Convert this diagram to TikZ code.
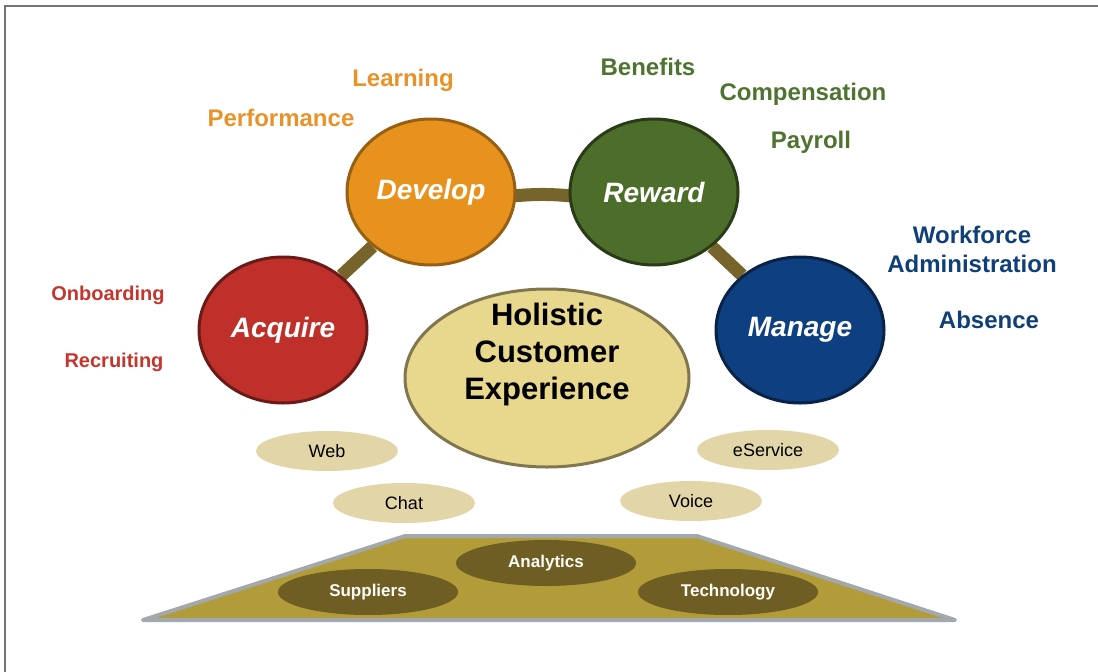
\documentclass[tikz,border=0pt]{standalone}
\usepackage{fontspec}
\setmainfont{Liberation Sans}
\usetikzlibrary{shapes.geometric,backgrounds}
\definecolor{acqred}{HTML}{C0302A}
\definecolor{devorange}{HTML}{E8921E}
\definecolor{rewgreen}{HTML}{4D6E2A}
\definecolor{manblue}{HTML}{0E3F80}
\definecolor{hubyellow}{HTML}{E8D88E}
\definecolor{linkbrown}{HTML}{76642A}
\definecolor{chanbeige}{HTML}{E2D6A9}
\definecolor{baseolive}{HTML}{B29C3A}
\definecolor{basedark}{HTML}{6F5E24}
\definecolor{baserim}{HTML}{A3A8AC}
\definecolor{txtorange}{HTML}{E8932A}
\definecolor{txtgreen}{HTML}{4F7330}
\definecolor{txtblue}{HTML}{0F3F78}
\definecolor{txtred}{HTML}{C3352D}
\begin{document}
\begin{tikzpicture}[x=1pt,y=-1pt,
  ball/.style={ellipse,minimum width=168pt,minimum height=146pt,line width=3pt,
    text=white,font=\fontsize{28}{32}\selectfont\bfseries\itshape},
  chan/.style={ellipse,fill=chanbeige,minimum width=142pt,minimum height=40pt,
    font=\fontsize{18}{21}\selectfont},
  pillar/.style={ellipse,fill=basedark,minimum width=180pt,minimum height=46pt,
    text=white!92!chanbeige,font=\fontsize{17}{20}\selectfont\bfseries},
  topic/.style={font=\fontsize{24}{29}\selectfont\bfseries,align=center},
  link/.style={draw=linkbrown,line width=13pt}]
\useasboundingbox (0,0) rectangle (1098,672);
% frame
\draw[gray!110,line width=2pt] (5,672) -- (5,6) -- (1098,6);
% platform
\draw[fill=baseolive,draw=baserim,line width=4pt,line join=round]
  (143,620) -- (405,536) -- (697,536) -- (955,620) -- cycle;
\node[pillar] (ana) at (546,563) {Analytics};
\node[pillar] (sup) at (368,592) {Suppliers};
\node[pillar] (tec) at (728,592) {Technology};
% channels
\node[chan] (web) at (327,451) {Web};
\node[chan] (chat) at (404,503) {Chat};
\node[chan] (eser) at (768,450) {eService};
\node[chan] (voice) at (691,501) {Voice};
% balls
\node[ball,fill=acqred,draw=acqred!55!black] (acq) at (283,330) {Acquire};
\node[ball,fill=devorange,draw=devorange!65!black] (dev) at (431,192) {Develop};
\node[ball,fill=rewgreen,draw=rewgreen!55!black] (rew) at (654,192) {Reward};
\node[ball,fill=manblue,draw=manblue!55!black] (man) at (800,330) {Manage};
\node[ellipse,fill=hubyellow,draw=hubyellow!55!black,line width=3pt,
  minimum width=284pt,minimum height=178pt] (hub) at (547,378) {};
\node[align=center,font=\fontsize{31}{37}\selectfont\bfseries] (hubtext)
  at ([yshift=24pt]hub.center) {Holistic\\Customer\\Experience};
\begin{pgfonlayer}{background}
\draw[link] (acq) -- (dev);
\draw[link] (dev.east) ++(-4,4) to[bend left=5] ([shift={(4,4)}]rew.west);
\draw[link] (rew) -- (man);
\end{pgfonlayer}
% topics
\node[topic,text=txtorange] (learn) at (403,80) {Learning};
\node[topic,text=txtorange] (perf) at (281,118) {Performance};
\node[topic,text=txtgreen] (bene) at (648,67) {Benefits};
\node[topic,text=txtgreen] (comp) at (803,94) {Compensation};
\node[topic,text=txtgreen] (pay) at (811,142) {Payroll};
\node[topic,text=txtblue] (wfa) at (972,249) {Workforce\\Administration};
\node[topic,text=txtblue] (abs) at (989,320) {Absence};
\node[topic,text=txtred,font=\fontsize{20}{24}\selectfont\bfseries] (onb) at (108,295) {Onboarding};
\node[topic,text=txtred,font=\fontsize{20}{24}\selectfont\bfseries] (rec) at (114,362) {Recruiting};
\end{tikzpicture}
\end{document}
